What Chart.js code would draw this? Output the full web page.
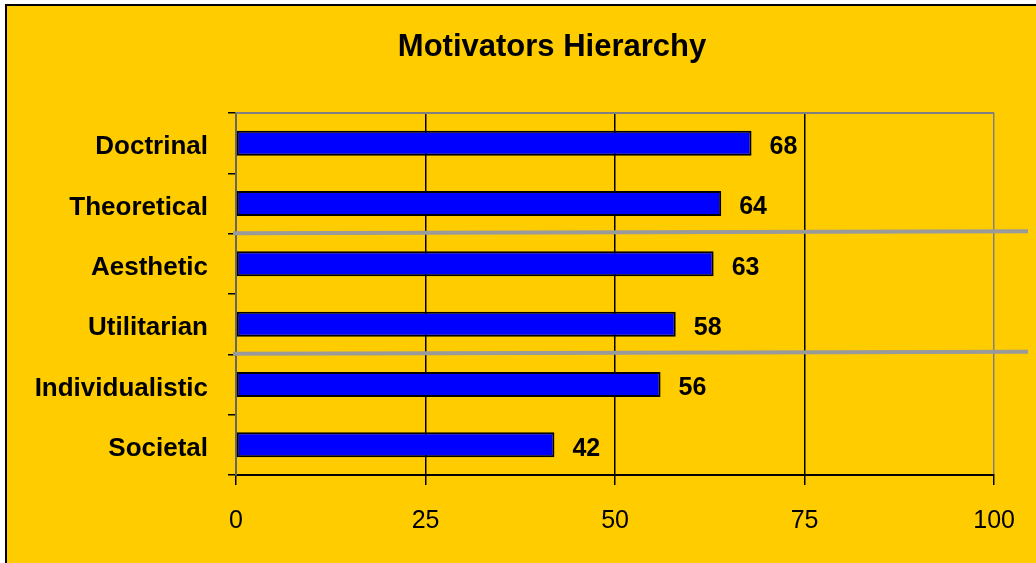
<!DOCTYPE html>
<html>
<head>
<meta charset="utf-8">
<script src="https://cdn.jsdelivr.net/npm/chart.js@4/dist/chart.umd.min.js"></script>
<style>
  body { margin: 0; background: #fff; }
  #wrap { width: 1036px; height: 563px; }
</style>
</head>
<body>
<div id="wrap"><canvas id="chart" width="1036" height="563"></canvas></div>
<script>
const categories = ['Doctrinal', 'Theoretical', 'Aesthetic', 'Utilitarian', 'Individualistic', 'Societal'];
const scores = [68, 64, 63, 58, 56, 42];
const xTicks = [0, 25, 50, 75, 100];
const separators = [1.5, 3.5]; // gaps between category groups
const titleText = 'Motivators Hierarchy';

const FONT = "'Liberation Sans', Arial, sans-serif";

// yellow frame, title, value labels and the grey separator lines
const framePlugin = {
  id: 'frame',
  beforeDraw(chart) {
    const c = chart.ctx;
    c.save();
    c.fillStyle = '#ffffff';
    c.fillRect(0, 0, chart.width, chart.height);
    c.fillStyle = '#ffcc00';
    c.fillRect(6, 4, chart.width, chart.height);
    c.strokeStyle = '#000';
    c.lineWidth = 2;
    c.beginPath();
    c.moveTo(6, chart.height);
    c.lineTo(6, 5);
    c.lineTo(chart.width, 5);
    c.stroke();
    c.fillStyle = '#000';
    c.font = 'bold 31px ' + FONT;
    c.textAlign = 'center';
    c.textBaseline = 'middle';
    c.fillText(titleText, 552, 47);
    c.restore();
  },
  beforeDatasetsDraw(chart) {
    const c = chart.ctx, a = chart.chartArea;
    c.save();
    c.strokeStyle = '#808080';
    c.lineWidth = 2;
    c.beginPath();
    c.moveTo(a.left, a.top);
    c.lineTo(a.right, a.top);
    c.stroke();
    c.restore();
  },
  afterDatasetsDraw(chart) {
    const c = chart.ctx;
    const y = chart.scales.y;
    c.save();
    c.fillStyle = '#000';
    c.font = 'bold 25px ' + FONT;
    c.textAlign = 'left';
    c.textBaseline = 'middle';
    chart.getDatasetMeta(0).data.forEach(function(bar, i) {
      c.fillText(String(scores[i]), bar.x + 18, bar.y + 4);
    });
    c.strokeStyle = '#9a9a9a';
    c.lineWidth = 4;
    separators.forEach(function(v) {
      const py = y.getPixelForValue(v);
      c.beginPath();
      c.moveTo(233, py - 0.5);
      c.lineTo(1028, py - 2.5);
      c.stroke();
    });
    c.restore();
  }
};

new Chart(document.getElementById('chart'), {
  type: 'bar',
  data: {
    labels: categories,
    datasets: [{
      data: scores,
      backgroundColor: '#0000ff',
      borderColor: '#000',
      borderWidth: 2,
      borderSkipped: false,
      barPercentage: 0.415,
      categoryPercentage: 1
    }]
  },
  options: {
    indexAxis: 'y',
    responsive: false,
    animation: false,
    layout: { padding: { left: 0, right: 41, top: 113, bottom: 0 } },
    plugins: {
      legend: { display: false },
      tooltip: { enabled: false },
      title: { display: false }
    },
    scales: {
      x: {
        min: 0,
        max: 100,
        afterBuildTicks(scale) { scale.ticks = xTicks.map(v => ({ value: v })); },
        afterFit(scale) { scale.height = 88; },
        ticks: { color: '#000', padding: 21, font: { family: FONT, size: 25 } },
        grid: {
          color: ctx => ctx.tick.value === 100 ? '#808080' : '#000',
          tickColor: '#000',
          lineWidth: 1.5,
          tickLength: 10
        },
        border: { color: '#000', width: 2 }
      },
      y: {
        afterFit(scale) { scale.width = 236; },
        ticks: { color: '#000', padding: 20, labelOffset: 4, font: { family: FONT, size: 26, weight: 'bold' } },
        grid: {
          drawOnChartArea: false,
          tickColor: '#000',
          lineWidth: 1.5,
          tickLength: 8
        },
        border: { color: '#666', width: 2 }
      }
    }
  },
  plugins: [framePlugin]
});
</script>
</body>
</html>
